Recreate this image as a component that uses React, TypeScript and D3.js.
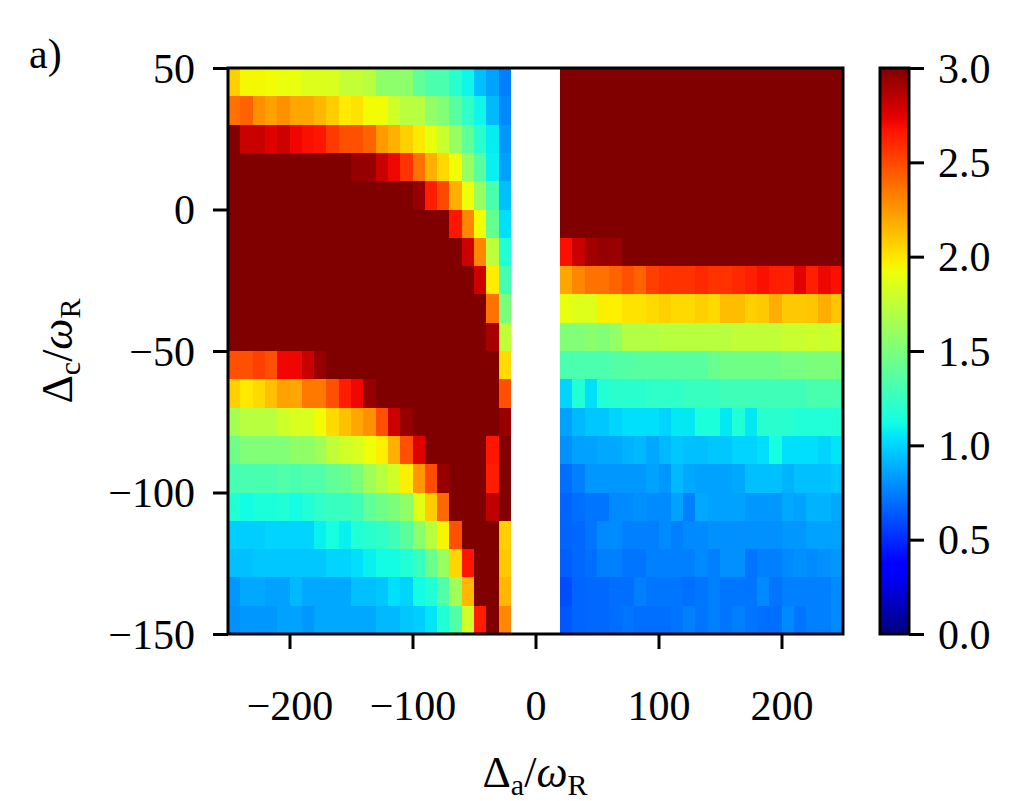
import React, { useRef, useEffect } from 'react';
import * as d3 from 'd3';

// cell centres (bins are 10 wide), the gap -20..20 has no data
const xLeft = [-245, -235, -225, -215, -205, -195, -185, -175, -165, -155, -145, -135, -125, -115, -105, -95, -85, -75, -65, -55, -45, -35, -25];
const xRight = [25, 35, 45, 55, 65, 75, 85, 95, 105, 115, 125, 135, 145, 155, 165, 175, 185, 195, 205, 215, 225, 235, 245];
const yRows = [45, 35, 25, 15, 5, -5, -15, -25, -35, -45, -55, -65, -75, -85, -95, -105, -115, -125, -135, -145];

const xTicks = [-200, -100, 0, 100, 200];
const yTicks = [50, 0, -50, -100, -150];
const cbTicks = [0, 0.5, 1, 1.5, 2, 2.5, 3];

const zLeft = [
  [2.07, 1.94, 1.94, 1.93, 1.9, 1.9, 1.85, 1.85, 1.84, 1.76, 1.76, 1.72, 1.57, 1.56, 1.56, 1.4, 1.32, 1.32, 1.2, 1.1, 0.94, 0.85, 0.75],
  [2.37, 2.42, 2.27, 2.22, 2.27, 2.2, 2.2, 2.15, 2.08, 1.98, 2.01, 1.93, 1.93, 1.81, 1.72, 1.72, 1.58, 1.52, 1.37, 1.23, 1.1, 0.92, 0.78],
  [3.0, 2.81, 2.81, 2.75, 2.8, 2.71, 2.68, 2.66, 2.55, 2.48, 2.48, 2.42, 2.24, 2.17, 2.07, 1.99, 1.9, 1.78, 1.6, 1.4, 1.2, 1.07, 0.82],
  [3, 3, 3, 3, 3, 3, 3, 3, 3, 3, 2.94, 2.94, 2.81, 2.71, 2.57, 2.37, 2.17, 2.04, 1.93, 1.6, 1.37, 1.08, 0.85],
  [3, 3, 3, 3, 3, 3, 3, 3, 3, 3, 3, 3, 3, 3, 3, 2.94, 2.64, 2.5, 2.17, 1.92, 1.6, 1.31, 0.94],
  [3, 3, 3, 3, 3, 3, 3, 3, 3, 3, 3, 3, 3, 3, 3, 3, 3, 3, 2.66, 2.3, 1.93, 1.42, 1.03],
  [3, 3, 3, 3, 3, 3, 3, 3, 3, 3, 3, 3, 3, 3, 3, 3, 3, 3, 3, 2.8, 2.3, 1.74, 1.17],
  [3, 3, 3, 3, 3, 3, 3, 3, 3, 3, 3, 3, 3, 3, 3, 3, 3, 3, 3, 3, 2.8, 1.98, 1.3],
  [3, 3, 3, 3, 3, 3, 3, 3, 3, 3, 3, 3, 3, 3, 3, 3, 3, 3, 3, 3, 3, 2.37, 1.5],
  [3, 3, 3, 3, 3, 3, 3, 3, 3, 3, 3, 3, 3, 3, 3, 3, 3, 3, 3, 3, 3, 2.9, 1.75],
  [2.48, 2.48, 2.53, 2.48, 2.71, 2.71, 2.81, 2.94, 3, 3, 3, 3, 3, 3, 3, 3, 3, 3, 3, 3, 3, 3, 2.03],
  [2.07, 1.99, 2.04, 2.12, 2.22, 2.2, 2.35, 2.35, 2.48, 2.64, 2.71, 2.94, 3, 3, 3, 3, 3, 3, 3, 3, 3, 3, 2.48],
  [1.65, 1.72, 1.72, 1.72, 1.8, 1.84, 1.84, 1.93, 2.04, 2.12, 2.2, 2.27, 2.48, 2.8, 2.94, 3, 3, 3, 3, 3, 3, 3, 2.94],
  [1.45, 1.52, 1.52, 1.52, 1.52, 1.57, 1.57, 1.63, 1.75, 1.81, 1.84, 1.92, 1.97, 2.17, 2.48, 2.75, 3, 3, 3, 3, 3, 2.66, 3],
  [1.3, 1.31, 1.31, 1.31, 1.34, 1.31, 1.34, 1.34, 1.4, 1.43, 1.5, 1.63, 1.72, 1.81, 1.97, 2.25, 2.49, 2.94, 3, 3, 3, 2.64, 3],
  [1.17, 1.12, 1.15, 1.15, 1.17, 1.12, 1.17, 1.22, 1.25, 1.25, 1.28, 1.4, 1.45, 1.5, 1.57, 1.87, 2.08, 2.4, 3, 3, 3, 2.84, 3],
  [0.98, 0.98, 0.98, 1.0, 1.0, 1.0, 1.0, 1.08, 1.13, 1.08, 1.17, 1.2, 1.22, 1.28, 1.38, 1.55, 1.72, 1.95, 2.48, 3, 3, 3, 2.07],
  [0.94, 0.94, 0.96, 0.96, 0.96, 0.96, 0.96, 0.96, 1.0, 1.0, 1.03, 1.08, 1.12, 1.12, 1.17, 1.25, 1.43, 1.6, 2.05, 2.66, 3, 3, 2.09],
  [0.82, 0.87, 0.87, 0.85, 0.85, 0.92, 0.87, 0.87, 0.87, 0.87, 0.94, 0.94, 0.96, 1.03, 1.0, 1.12, 1.17, 1.34, 1.63, 2.15, 3, 3, 2.15],
  [0.8, 0.82, 0.82, 0.82, 0.85, 0.85, 0.82, 0.87, 0.87, 0.87, 0.87, 0.87, 0.92, 0.92, 0.96, 0.98, 1.05, 1.17, 1.34, 1.8, 2.64, 3, 2.3],
];

const zRight = [
  [3, 3, 3, 3, 3, 3, 3, 3, 3, 3, 3, 3, 3, 3, 3, 3, 3, 3, 3, 3, 3, 3, 3],
  [3, 3, 3, 3, 3, 3, 3, 3, 3, 3, 3, 3, 3, 3, 3, 3, 3, 3, 3, 3, 3, 3, 3],
  [3, 3, 3, 3, 3, 3, 3, 3, 3, 3, 3, 3, 3, 3, 3, 3, 3, 3, 3, 3, 3, 3, 3],
  [3, 3, 3, 3, 3, 3, 3, 3, 3, 3, 3, 3, 3, 3, 3, 3, 3, 3, 3, 3, 3, 3, 3],
  [3, 3, 3, 3, 3, 3, 3, 3, 3, 3, 3, 3, 3, 3, 3, 3, 3, 3, 3, 3, 3, 3, 3],
  [3, 3, 3, 3, 3, 3, 3, 3, 3, 3, 3, 3, 3, 3, 3, 3, 3, 3, 3, 3, 3, 3, 3],
  [2.68, 2.81, 2.91, 2.94, 2.93, 3, 3, 3, 3, 3, 3, 3, 3, 3, 3, 3, 3, 3, 3, 3, 3, 3, 3],
  [2.2, 2.3, 2.37, 2.37, 2.42, 2.48, 2.42, 2.53, 2.57, 2.57, 2.57, 2.6, 2.57, 2.57, 2.6, 2.63, 2.68, 2.63, 2.63, 2.75, 2.63, 2.71, 2.68],
  [1.9, 1.86, 1.86, 1.97, 1.97, 2.01, 2.01, 2.04, 2.07, 2.04, 2.04, 2.07, 2.04, 2.13, 2.13, 2.07, 2.09, 2.18, 2.09, 2.09, 2.1, 2.18, 2.1],
  [1.52, 1.52, 1.55, 1.52, 1.58, 1.7, 1.7, 1.7, 1.72, 1.72, 1.72, 1.72, 1.72, 1.72, 1.75, 1.75, 1.75, 1.75, 1.78, 1.78, 1.8, 1.78, 1.8],
  [1.32, 1.32, 1.32, 1.32, 1.35, 1.35, 1.37, 1.37, 1.37, 1.37, 1.37, 1.37, 1.43, 1.46, 1.46, 1.46, 1.46, 1.46, 1.48, 1.48, 1.5, 1.5, 1.5],
  [1.0, 1.17, 1.03, 1.17, 1.2, 1.2, 1.2, 1.22, 1.22, 1.22, 1.25, 1.25, 1.25, 1.28, 1.28, 1.28, 1.28, 1.28, 1.28, 1.28, 1.31, 1.31, 1.31],
  [0.85, 0.92, 0.96, 0.96, 1.0, 1.03, 1.03, 1.03, 1.0, 1.06, 1.06, 1.15, 1.15, 1.06, 1.17, 1.06, 1.2, 1.2, 1.2, 1.17, 1.17, 1.17, 1.17],
  [0.8, 0.85, 0.85, 0.87, 0.87, 0.9, 0.92, 0.87, 0.92, 0.96, 0.94, 0.94, 0.96, 0.96, 1.0, 1.0, 1.03, 1.13, 1.03, 1.03, 1.03, 1.0, 1.05],
  [0.7, 0.75, 0.82, 0.82, 0.82, 0.82, 0.82, 0.85, 0.82, 0.92, 0.87, 0.85, 0.85, 0.85, 0.87, 0.94, 0.94, 0.94, 0.9, 0.94, 0.94, 0.94, 0.96],
  [0.67, 0.7, 0.72, 0.72, 0.78, 0.78, 0.8, 0.78, 0.78, 0.85, 0.75, 0.87, 0.85, 0.85, 0.85, 0.82, 0.82, 0.82, 0.87, 0.85, 0.9, 0.9, 0.87],
  [0.67, 0.68, 0.72, 0.78, 0.78, 0.75, 0.75, 0.75, 0.78, 0.75, 0.78, 0.78, 0.8, 0.8, 0.8, 0.8, 0.8, 0.8, 0.82, 0.82, 0.85, 0.85, 0.85],
  [0.65, 0.68, 0.7, 0.75, 0.75, 0.72, 0.72, 0.75, 0.75, 0.75, 0.75, 0.78, 0.75, 0.8, 0.8, 0.72, 0.75, 0.75, 0.78, 0.8, 0.78, 0.8, 0.82],
  [0.6, 0.67, 0.68, 0.68, 0.7, 0.7, 0.75, 0.72, 0.72, 0.72, 0.7, 0.72, 0.75, 0.72, 0.72, 0.72, 0.78, 0.72, 0.75, 0.75, 0.75, 0.75, 0.78],
  [0.63, 0.67, 0.68, 0.68, 0.7, 0.72, 0.7, 0.7, 0.7, 0.72, 0.75, 0.72, 0.75, 0.72, 0.75, 0.72, 0.7, 0.7, 0.78, 0.72, 0.75, 0.75, 0.78],
];

const cellW = 10;
const FONT = '"Liberation Serif", "DejaVu Serif", serif';

// matplotlib "jet" segment data
const jetR = d3.scaleLinear().domain([0, 0.35, 0.66, 0.89, 1]).range([0, 0, 1, 1, 0.5]).clamp(true);
const jetG = d3.scaleLinear().domain([0, 0.125, 0.375, 0.64, 0.91, 1]).range([0, 0, 1, 1, 0, 0]).clamp(true);
const jetB = d3.scaleLinear().domain([0, 0.11, 0.34, 0.65, 1]).range([0.5, 1, 1, 0, 0]).clamp(true);
const jet = (t: number) => d3.rgb(jetR(t) * 255, jetG(t) * 255, jetB(t) * 255).formatHex();

const fmt = (d: number) => (d < 0 ? '\u2212' + Math.abs(d) : String(d));

const App = () => {
  const svgRef = useRef<SVGSVGElement>(null);

  useEffect(() => {
    document.body.style.margin = '0';
    const width = 1022;
    const height = 801;
    const svg = d3.select(svgRef.current).attr('width', width).attr('height', height);
    svg.selectAll('*').remove();

    const plot = { left: 228, right: 843, top: 68, bottom: 634 };
    const x = d3.scaleLinear().domain([-250, 250]).range([plot.left, plot.right]);
    const y = d3.scaleLinear().domain([-150, 50]).range([plot.bottom, plot.top]);
    const norm = d3.scaleLinear().domain([0, 3]).range([0, 1]).clamp(true);

    svg.append('rect').attr('width', width).attr('height', height).attr('fill', '#fff');

    // heatmap cells
    const cells: { x: number; y: number; v: number }[] = [];
    yRows.forEach((yc, i) => {
      xLeft.forEach((xc, j) => cells.push({ x: xc, y: yc, v: zLeft[i][j] }));
      xRight.forEach((xc, j) => cells.push({ x: xc, y: yc, v: zRight[i][j] }));
    });

    svg
      .append('g')
      .attr('shape-rendering', 'crispEdges')
      .selectAll('rect')
      .data(cells)
      .enter()
      .append('rect')
      .attr('x', d => x(d.x - cellW / 2))
      .attr('width', d => x(d.x + cellW / 2) - x(d.x - cellW / 2))
      .attr('y', d => y(d.y + cellW / 2))
      .attr('height', d => y(d.y - cellW / 2) - y(d.y + cellW / 2))
      .attr('fill', d => jet(norm(d.v)));

    // axes
    const xAxis = svg
      .append('g')
      .attr('transform', `translate(0,${plot.bottom})`)
      .call(d3.axisBottom(x).tickValues(xTicks).tickSize(15).tickFormat(d => fmt(+d)));
    const yAxis = svg
      .append('g')
      .attr('transform', `translate(${plot.left},0)`)
      .call(d3.axisLeft(y).tickValues(yTicks).tickSize(15).tickFormat(d => fmt(+d)));

    [xAxis, yAxis].forEach(g => {
      g.select('.domain').remove();
      g.selectAll('line').attr('stroke', '#000').attr('stroke-width', 3);
      g.selectAll('text').attr('font-family', FONT).attr('font-size', 42).attr('fill', '#000').attr('dy', null);
    });
    xAxis.selectAll('text').attr('y', 86);
    yAxis.selectAll('text').attr('x', -33).attr('y', 14);

    svg
      .append('rect')
      .attr('x', plot.left)
      .attr('y', plot.top)
      .attr('width', plot.right - plot.left)
      .attr('height', plot.bottom - plot.top)
      .attr('fill', 'none')
      .attr('stroke', '#000')
      .attr('stroke-width', 3);

    // colorbar
    const cb = { left: 880, right: 909 };
    const cbScale = d3.scaleLinear().domain([0, 3]).range([plot.bottom, plot.top]);
    const grad = svg
      .append('defs')
      .append('linearGradient')
      .attr('id', 'jetGrad')
      .attr('x1', 0)
      .attr('y1', 1)
      .attr('x2', 0)
      .attr('y2', 0);
    d3.range(0, 1.0001, 1 / 64).forEach(t => {
      grad.append('stop').attr('offset', t).attr('stop-color', jet(t));
    });
    svg
      .append('rect')
      .attr('x', cb.left)
      .attr('y', plot.top)
      .attr('width', cb.right - cb.left)
      .attr('height', plot.bottom - plot.top)
      .attr('fill', 'url(#jetGrad)')
      .attr('stroke', '#000')
      .attr('stroke-width', 3);

    const cbAxis = svg
      .append('g')
      .attr('transform', `translate(${cb.right},0)`)
      .call(d3.axisRight(cbScale).tickValues(cbTicks).tickSize(15).tickFormat(d3.format('.1f')));
    cbAxis.select('.domain').remove();
    cbAxis.selectAll('line').attr('stroke', '#000').attr('stroke-width', 3);
    cbAxis
      .selectAll('text')
      .attr('font-family', FONT)
      .attr('font-size', 42)
      .attr('fill', '#000')
      .attr('dy', null)
      .attr('x', 29)
      .attr('y', 14);

    // axis labels
    const xLab = svg
      .append('text')
      .attr('x', 535)
      .attr('y', 787)
      .attr('text-anchor', 'middle')
      .attr('font-family', FONT)
      .attr('font-size', 44);
    xLab.append('tspan').text('\u0394');
    xLab.append('tspan').attr('font-size', 30).attr('dy', 8).text('a');
    xLab.append('tspan').attr('dy', -8).text('/');
    xLab.append('tspan').attr('font-style', 'italic').text('\u03c9');
    xLab.append('tspan').attr('font-size', 30).attr('dy', 8).text('R');

    const yLab = svg
      .append('text')
      .attr('transform', 'translate(72,351) rotate(-90)')
      .attr('text-anchor', 'middle')
      .attr('font-family', FONT)
      .attr('font-size', 44);
    yLab.append('tspan').text('\u0394');
    yLab.append('tspan').attr('font-size', 30).attr('dy', 8).text('c');
    yLab.append('tspan').attr('dy', -8).text('/');
    yLab.append('tspan').attr('font-style', 'italic').text('\u03c9');
    yLab.append('tspan').attr('font-size', 30).attr('dy', 8).text('R');

    svg
      .append('text')
      .attr('x', 29)
      .attr('y', 68)
      .attr('font-family', FONT)
      .attr('font-size', 42)
      .text('a)');
  }, []);

  return <svg ref={svgRef}></svg>;
};

export default App;
